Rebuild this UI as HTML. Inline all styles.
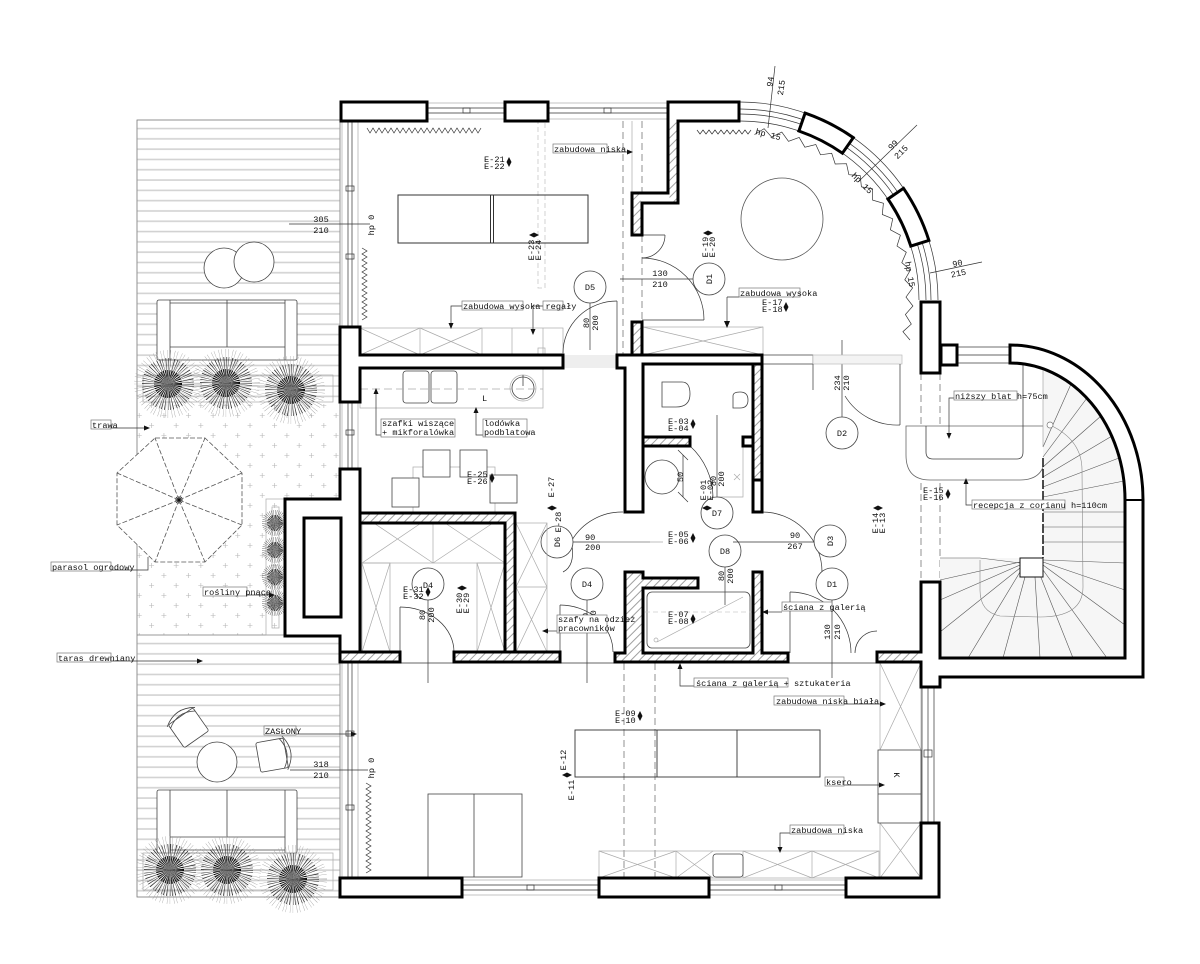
<!DOCTYPE html>
<html><head><meta charset="utf-8">
<style>
html,body{margin:0;padding:0;background:#fff;width:1200px;height:964px;overflow:hidden}
svg{display:block}
text{font-family:"Liberation Mono","DejaVu Sans Mono",monospace;font-size:8.6px;fill:#111}
.w{fill:#fff;stroke:#000;stroke-width:3;stroke-linejoin:miter}
.wh{fill:url(#h);stroke:#000;stroke-width:3;stroke-linejoin:miter}
.f{fill:none;stroke:#444;stroke-width:.8}
.fw{fill:#fff;stroke:#444;stroke-width:.8}
.l{fill:none;stroke:#aaa;stroke-width:.7}
.t{fill:none;stroke:#333;stroke-width:.7}
.bx{fill:#fff;stroke:#777;stroke-width:.7}
.d{fill:none;stroke:#777;stroke-width:.8;stroke-dasharray:7 4}
.a{fill:#111;stroke:none}
.p1{fill:none;stroke:#9a9a9a;stroke-width:34;stroke-dasharray:.2 1.3 .2 2.1}
.p2{fill:none;stroke:#222;stroke-width:26;stroke-dasharray:.35 .9 .25 1.6 .4 1.2}
.p3{fill:none;stroke:#000;stroke-width:14;stroke-dasharray:.5 .7}
.q1{fill:none;stroke:#555;stroke-width:13;stroke-dasharray:.25 .8}
.q2{fill:none;stroke:#111;stroke-width:8;stroke-dasharray:.4 .5}
</style></head><body>
<svg width="1200" height="964" viewBox="0 0 1200 964" xmlns="http://www.w3.org/2000/svg">
<defs>
<pattern id="h" width="6" height="6" patternUnits="userSpaceOnUse" patternTransform="rotate(45)"><rect width="6" height="6" fill="#fff"/><line x1="1" y1="0" x2="1" y2="6" stroke="#888" stroke-width=".8"/></pattern>
<pattern id="g" width="24.6" height="20" patternUnits="userSpaceOnUse"><path d="M4,3v5M1.5,5.5h5M16.3,13v5M13.8,15.5h5" stroke="#b5b5b5" stroke-width=".6" fill="none"/></pattern>
<pattern id="dk" width="20" height="10.3" patternUnits="userSpaceOnUse"><line x1="0" y1="5" x2="20" y2="5" stroke="#d2d2d2" stroke-width="1.6"/></pattern>
</defs>

<!-- ===== TERRACE ===== -->
<rect x="137" y="120" width="203" height="777" fill="#fff" stroke="#777" stroke-width=".8"/>
<rect x="137.5" y="121" width="202" height="283" fill="url(#dk)"/>
<rect x="137.5" y="404" width="202" height="231" fill="url(#g)"/>
<line x1="137" y1="635" x2="340" y2="635" stroke="#777" stroke-width=".8"/>
<rect x="137.5" y="636" width="202" height="260" fill="url(#dk)"/>

<!-- stools -->
<circle cx="224" cy="268" r="20" class="fw"/>
<circle cx="254" cy="262" r="20" class="fw"/>
<!-- top sofa -->
<rect x="157" y="300" width="140" height="60" rx="2" class="fw"/>
<g class="f"><line x1="170" y1="300" x2="170" y2="360"/><line x1="285" y1="300" x2="285" y2="360"/><line x1="170" y1="347" x2="285" y2="347"/><line x1="227" y1="300" x2="227" y2="347"/><line x1="170" y1="303" x2="285" y2="303"/></g>
<rect x="143" y="375" width="190" height="27" class="l"/>
<!-- top plants -->
<g>
<circle cx="168" cy="384" r="17" class="p1"/><circle cx="168" cy="384" r="13" class="p2"/><circle cx="168" cy="384" r="7" class="p3"/>
<circle cx="226" cy="383" r="17" class="p1"/><circle cx="226" cy="383" r="13" class="p2"/><circle cx="226" cy="383" r="7" class="p3"/>
<circle cx="291" cy="390" r="17" class="p1"/><circle cx="291" cy="390" r="13" class="p2"/><circle cx="291" cy="390" r="7" class="p3"/>
</g>
<!-- parasol -->
<g fill="none" stroke="#555" stroke-width=".8" stroke-dasharray="5 2">
<polygon points="155,438 205,438 242,473 242,525 205,562 155,562 117,525 117,473" fill="#fff"/>
<path d="M179,500L155,438M179,500L205,438M179,500L242,473M179,500L242,525M179,500L205,562M179,500L155,562M179,500L117,525M179,500L117,473"/>
</g>
<path d="M176,497l6,6M182,497l-6,6M179,496v8M175,500h8" stroke="#111" stroke-width=".7"/>
<!-- climbing plants planter -->
<rect x="266" y="499" width="19" height="136" class="l" fill="#fff"/>
<rect x="272" y="507" width="7" height="121" class="l"/>
<g>
<circle cx="275" cy="523" r="6.5" class="q1"/><circle cx="275" cy="523" r="4" class="q2"/>
<circle cx="275" cy="550" r="6.5" class="q1"/><circle cx="275" cy="550" r="4" class="q2"/>
<circle cx="275" cy="577" r="6.5" class="q1"/><circle cx="275" cy="577" r="4" class="q2"/>
<circle cx="275" cy="603" r="6.5" class="q1"/><circle cx="275" cy="603" r="4" class="q2"/>
</g>
<!-- bottom terrace furniture -->
<g transform="translate(188,727) rotate(-35)">
<rect x="-15" y="-13" width="30" height="28" rx="2" class="fw"/>
<path d="M-17,-12 Q0,-24 17,-12 M-15,-9 Q0,-19 15,-9" class="f"/>
</g>
<circle cx="217" cy="762" r="20" class="fw"/>
<g transform="translate(273,755) rotate(80)">
<rect x="-15" y="-13" width="30" height="28" rx="2" class="fw"/>
<path d="M-17,-12 Q0,-24 17,-12 M-15,-9 Q0,-19 15,-9" class="f"/>
</g>
<rect x="157" y="790" width="140" height="63" rx="2" class="fw"/>
<g class="f"><line x1="170" y1="790" x2="170" y2="853"/><line x1="285" y1="790" x2="285" y2="853"/><line x1="170" y1="837" x2="285" y2="837"/><line x1="227" y1="790" x2="227" y2="837"/><line x1="170" y1="850" x2="285" y2="850"/></g>
<rect x="143" y="853" width="190" height="37" class="l"/>
<g>
<circle cx="170" cy="870" r="17" class="p1"/><circle cx="170" cy="870" r="13" class="p2"/><circle cx="170" cy="870" r="7" class="p3"/>
<circle cx="227" cy="870" r="17" class="p1"/><circle cx="227" cy="870" r="13" class="p2"/><circle cx="227" cy="870" r="7" class="p3"/>
<circle cx="293" cy="879" r="17" class="p1"/><circle cx="293" cy="879" r="13" class="p2"/><circle cx="293" cy="879" r="7" class="p3"/>
</g>

<!-- ===== INTERIOR LINES / FURNITURE ===== -->
<line x1="623" y1="121" x2="623" y2="355" class="d"/>
<line x1="642" y1="121" x2="642" y2="193" class="d"/>
<line x1="642" y1="235" x2="642" y2="322" class="d"/>
<line x1="632" y1="121" x2="632" y2="193" class="l"/>
<rect x="538" y="122" width="7" height="166" fill="none" stroke="#c8c8c8" stroke-width=".8" stroke-dasharray="5 3"/>
<line x1="624" y1="663" x2="624" y2="878" class="d"/>
<line x1="655" y1="663" x2="655" y2="878" class="d"/>
<line x1="921" y1="373" x2="921" y2="582" class="d"/>
<line x1="940" y1="373" x2="940" y2="582" class="d"/>

<!-- top-left room -->
<path d="M367,128 l3,5 l3,-5 l3,5 l3,-5 l3,5 l3,-5 l3,5 l3,-5 l3,5 l3,-5 l3,5 l3,-5 l3,5 l3,-5 l3,5 l3,-5 l3,5 l3,-5 l3,5 l3,-5 l3,5 l3,-5 l3,5 l3,-5 l3,5 l3,-5 l3,5 l3,-5 l3,5 l3,-5 l3,5 l3,-5 l3,5 l3,-5 l3,5 l3,-5 l3,5 l3,-5" class="t"/>
<path d="M362,248 l5,3 l-5,3 l5,3 l-5,3 l5,3 l-5,3 l5,3 l-5,3 l5,3 l-5,3 l5,3 l-5,3 l5,3 l-5,3 l5,3 l-5,3 l5,3 l-5,3 l5,3 l-5,3 l5,3 l-5,3 l5,3 l-5,3" class="t"/>
<rect x="398" y="195" width="190" height="48" fill="none" stroke="#333" stroke-width="1"/>
<line x1="490.5" y1="195" x2="490.5" y2="243" stroke="#333" stroke-width="1"/>
<line x1="493.5" y1="195" x2="493.5" y2="243" stroke="#333" stroke-width="1"/>
<circle cx="590" cy="287" r="16" class="fw"/>
<line x1="590" y1="303" x2="590" y2="350" class="t"/>
<rect x="360" y="328" width="203" height="27" class="l"/>
<g class="l"><line x1="420" y1="328" x2="420" y2="355"/><line x1="482" y1="328" x2="482" y2="355"/><line x1="512" y1="328" x2="512" y2="355"/><line x1="543" y1="328" x2="543" y2="355"/>
<path d="M360,328L420,355M420,328L360,355M420,328L482,355M482,328L420,355"/>
<rect x="538" y="348" width="7" height="7"/></g>
<path d="M563,353 A54,52 0 0 1 617,301" class="t"/>
<line x1="617" y1="301" x2="617" y2="355" class="t"/>
<rect x="563" y="355" width="54" height="13" fill="#eee" stroke="none"/>

<!-- top-right room -->
<path d="M697,130 l3,4 l3,-4 l3,4 l3,-4 l3,4 l3,-4 l3,4 l3,-4 l3,4 l3,-4 l3,4 l3,-4 l3,4 l3,-4 l3,4 l3,-4 l3,4 l3,-4" class="t"/>
<polyline class="t" points="754.5,134.6 764.1,128.7 771.7,137.1 781.8,132.1 788.5,141.3 799.2,137.4 804.9,147.2 815.8,144.5 820.5,154.8 831.7,153.3 835.2,164.0 846.5,163.7 848.9,174.7 860.2,175.6 861.4,186.8 872.5,188.8 872.6,200.1 883.4,203.3 882.3,214.5 892.7,218.8 890.4,229.8 900.4,235.2 897.0,246.0 906.3,252.3 901.8,262.6 910.4,270.0 904.8,279.8 912.6,287.9 906.0,297.1 912.9,306.0 905.4,314.5 911.3,324.1 902.9,331.7 910,340"/>
<circle cx="782" cy="219" r="41" fill="none" stroke="#555" stroke-width=".8"/>
<path d="M642,235 L665,235 M665,235 A23,23 0 0 1 642,258" class="t"/>
<path d="M642,258 A62,62 0 0 1 704,320 M642,320 L704,320" class="t"/>
<line x1="620" y1="279" x2="693" y2="279" class="t"/>
<circle cx="709" cy="279" r="16" class="fw"/>
<rect x="643" y="327" width="120" height="28" class="l"/>
<path d="M643,327L763,355M763,327L643,355" class="l"/>
<path d="M727,297 L739,297 M727,297 L727,322" class="t"/>
<path class="a" d="M724,321 l3,7 l3,-7z"/>
<line x1="842" y1="340" x2="842" y2="417" class="t"/>
<line x1="768" y1="128" x2="775" y2="66" class="t"/>
<line x1="917" y1="125" x2="858" y2="182" class="t"/>
<line x1="982" y1="262" x2="930" y2="273" class="t"/>

<rect x="762" y="355" width="51" height="9" fill="#fff" stroke="#333" stroke-width=".7"/>
<rect x="813" y="355" width="89" height="9" fill="#f3f3f3" stroke="#bbb" stroke-width=".7"/>
<rect x="957" y="347" width="53" height="16" fill="#fff" stroke="#333" stroke-width=".7"/>
<line x1="957" y1="355" x2="1010" y2="355" class="t"/>
<path d="M845,396 A61,61 0 0 0 900,425" class="t"/>
<line x1="900" y1="364" x2="900" y2="425" class="t"/>
<line x1="813" y1="364" x2="813" y2="390" class="t"/>
<circle cx="842" cy="433" r="16" class="fw"/>
<path d="M906,426 L1045,426 L1045,455 Q1045,480 1020,480 L930,480 Q906,480 906,455 Z" fill="#fff" stroke="#666" stroke-width=".8"/>
<path d="M926,426 L926,452 Q926,459 933,459 L1017,459 Q1023,459 1023,452 L1023,363" class="f"/>

<!-- stairs -->
<path d="M1043,369 L1043,558 L940,558 L940,658 L1125,658 L1125,500 A115,137 0 0 0 1043,369 Z" fill="#f6f6f6"/>
<g stroke="#555" stroke-width=".6" fill="none">
<path d="M1043,447L1071,384M1043,457L1087,398M1043,467L1101,416M1043,477L1112,436M1043,487L1119,458M1043,497L1124,481M1043,512L1125,512M1043,527L1125,527M1043,542L1125,542"/>
<path d="M1043,560L1125,563M1043,562L1125,590M1043,565L1125,625M1043,570L1107,658M1040,575L1073,658M1035,577L1040,658M1025,577L1003,658M1020,572L968,658M1020,568L940,632M1020,565L940,600M1020,562L940,580M940,558L980,558L1020,563"/>
<line x1="1043" y1="363" x2="1043" y2="447" stroke="#999"/>
<path d="M1050,425 Q1082,440 1082,470 L1083,587 Q1083,617 1040,617 L1000,616 Q980,612 980,590 L980,560" stroke="#888"/>
</g>
<circle cx="1050" cy="425" r="3" fill="#fff" stroke="#777" stroke-width=".7"/>
<line x1="1043" y1="458" x2="1043" y2="558" stroke="#111" stroke-width="1.5" stroke-dasharray="9 2"/>
<rect x="1020" y="558" width="23" height="19" fill="#fff" stroke="#111" stroke-width="1"/>

<!-- kitchen -->
<rect x="360" y="368" width="183" height="40" class="l"/>
<rect x="403" y="371" width="26" height="32" rx="3" class="f"/>
<rect x="431" y="371" width="26" height="32" rx="3" class="f"/>
<circle cx="523" cy="388" r="13" class="l"/>
<circle cx="523" cy="388" r="11" class="f"/>
<line x1="523" y1="375" x2="523" y2="386" class="f"/>
<line x1="360" y1="389" x2="543" y2="389" class="l" stroke-dasharray="8 4"/>
<rect x="413" y="467" width="82" height="46" class="l"/>
<rect x="423" y="450" width="27" height="27" class="fw"/>
<rect x="460" y="450" width="27" height="27" class="fw"/>
<rect x="392" y="478" width="27" height="29" class="fw"/>
<rect x="490" y="475" width="27" height="28" class="fw"/>
<path d="M623,512 A58,58 0 0 0 572,540" class="t"/>
<path d="M572,545 Q575,566 563,572" class="t"/>
<line x1="572" y1="542" x2="650" y2="542" class="t"/>
<circle cx="557" cy="542" r="16" class="fw"/>
<rect x="362" y="515" width="143" height="48" class="l"/>
<path d="M362,515L433,563M433,515L362,563M433,515L505,563M505,515L433,563M433,515V563" class="l"/>
<rect x="362" y="563" width="28" height="89" class="l"/>
<path d="M362,563L390,652M390,563L362,652" class="l"/>
<rect x="477" y="563" width="28" height="89" class="l"/>
<path d="M477,563L505,652M505,563L477,652" class="l"/>
<circle cx="428" cy="584" r="16" class="fw"/>
<line x1="428" y1="600" x2="428" y2="683" class="t"/>
<path d="M400,607 A54,45 0 0 1 454,652" class="t"/>
<line x1="400" y1="607" x2="400" y2="652" class="t"/>
<rect x="516" y="523" width="31" height="129" class="l"/>
<path d="M516,523L547,587M547,523L516,587M516,587L547,652M547,587L516,652M516,587H547" class="l"/>
<circle cx="587" cy="584" r="16" class="fw"/>
<line x1="587" y1="600" x2="587" y2="683" class="t"/>
<path d="M560,605 A53,47 0 0 1 613,652" class="t"/>
<line x1="560" y1="605" x2="560" y2="652" class="t"/>

<!-- core bathrooms -->
<path d="M662,382 h20 q8,0 8,12 q0,13 -14,13 h-14z" class="f"/>
<path d="M733,396 q0,-4 7,-4 q8,0 8,8 q0,8 -8,8 h-7z" class="f"/>
<circle cx="662" cy="477" r="17" class="fw"/>
<path d="M683,455V497M678,450l10,10M678,492l10,10" class="t"/>
<line x1="717" y1="415" x2="717" y2="497" class="t"/>
<path d="M743,446V497H717" class="l"/>
<path d="M734,474l6,6M740,474l-6,6" class="l"/>
<path d="M690,446 A70,70 0 0 1 713,497" class="t"/>
<circle cx="717" cy="513" r="16" class="fw"/>
<line x1="600" y1="542" x2="663" y2="542" class="l"/>
<circle cx="725" cy="551" r="16" class="fw"/>
<line x1="733" y1="542" x2="815" y2="542" class="t"/>
<line x1="725" y1="567" x2="725" y2="605" class="t"/>
<path d="M762,512 A60,60 0 0 1 822,572" class="t"/>
<circle cx="830" cy="541" r="16" class="fw"/>
<circle cx="832" cy="584" r="16" class="fw"/>
<line x1="832" y1="600" x2="832" y2="678" class="t"/>
<rect x="647" y="592" width="103" height="56" rx="5" class="f"/>
<path d="M657,642L743,597" class="l"/>
<circle cx="656" cy="640" r="2" class="l"/>
<line x1="645" y1="612" x2="760" y2="612" stroke="#ccc" stroke-width=".8" stroke-dasharray="5 3"/>
<path d="M790,592 A61,61 0 0 1 851,653" class="t"/>
<line x1="790" y1="592" x2="790" y2="653" class="t"/>
<path d="M855,653 A22,22 0 0 1 877,631" class="t"/>

<!-- bottom room -->
<line x1="340" y1="663" x2="921" y2="663" class="t"/>
<rect x="575" y="730" width="245" height="47" fill="none" stroke="#333" stroke-width=".9"/>
<line x1="657" y1="730" x2="657" y2="777" stroke="#333" stroke-width=".9"/>
<line x1="737" y1="730" x2="737" y2="777" stroke="#333" stroke-width=".9"/>
<rect x="428" y="794" width="94" height="83" class="f"/>
<line x1="474" y1="794" x2="474" y2="877" class="f"/>
<rect x="599" y="851" width="280" height="27" class="l"/>
<path d="M676,851V878M743,851V878M812,851V878M599,851L676,878M676,851L599,878M676,851L713,878M713,851L676,878M743,851L812,878M812,851L743,878M812,851L879,878M879,851L812,878" class="l"/>
<rect x="713" y="854" width="30" height="23" rx="3" class="fw"/>
<rect x="880" y="663" width="41" height="215" class="l"/>
<path d="M880,663L921,750M921,663L880,750M880,823L921,878M921,823L880,878" class="l"/>
<rect x="878" y="750" width="43" height="73" class="fw"/>
<line x1="878" y1="794" x2="921" y2="794" class="f"/>
<path d="M366,783 l5,3 l-5,3 l5,3 l-5,3 l5,3 l-5,3 l5,3 l-5,3 l5,3 l-5,3 l5,3 l-5,3 l5,3 l-5,3 l5,3 l-5,3 l5,3 l-5,3 l5,3 l-5,3 l5,3 l-5,3 l5,3 l-5,3 l5,3 l-5,3 l5,3 l-5,3 l5,3 l-5,3" class="t"/>

<!-- ===== WINDOWS ===== -->
<g class="t">
<rect x="342" y="121" width="16" height="206" stroke="#aaa"/>
<line x1="348" y1="121" x2="348" y2="327"/><line x1="352" y1="121" x2="352" y2="327"/>
<rect x="346" y="186" width="8" height="5"/><rect x="346" y="254" width="8" height="5"/>
<rect x="342" y="402" width="16" height="67" stroke="#aaa"/>
<line x1="348" y1="402" x2="348" y2="469"/><line x1="352" y1="402" x2="352" y2="469"/>
<rect x="346" y="430" width="8" height="5"/>
<rect x="342" y="662" width="16" height="216" stroke="#aaa"/>
<line x1="348" y1="662" x2="348" y2="878"/><line x1="352" y1="662" x2="352" y2="878"/>
<rect x="346" y="731" width="8" height="5"/><rect x="346" y="805" width="8" height="5"/>
<rect x="427" y="103" width="78" height="16" stroke="#aaa"/>
<line x1="427" y1="108" x2="505" y2="108"/><line x1="427" y1="113" x2="505" y2="113"/>
<rect x="463" y="108" width="7" height="5"/>
<rect x="548" y="103" width="120" height="16" stroke="#aaa"/>
<line x1="548" y1="108" x2="668" y2="108"/><line x1="548" y1="113" x2="668" y2="113"/>
<rect x="604" y="108" width="7" height="5"/>
<rect x="462" y="880" width="137" height="15" stroke="#aaa"/>
<line x1="462" y1="885" x2="599" y2="885"/><line x1="462" y1="890" x2="599" y2="890"/>
<rect x="527" y="885" width="7" height="5"/>
<rect x="709" y="880" width="137" height="15" stroke="#aaa"/>
<line x1="709" y1="885" x2="846" y2="885"/><line x1="709" y1="890" x2="846" y2="890"/>
<rect x="775" y="885" width="7" height="5"/>
<rect x="922" y="687" width="12" height="136"/>
<line x1="928" y1="687" x2="928" y2="823"/>
<rect x="924" y="750" width="8" height="7"/>
<path d="M740,102 A198,198 0 0 1 938,300"/>
<path d="M740,109 A191,191 0 0 1 931,300"/>
<path d="M740,114 A186,186 0 0 1 926,300"/>
<path d="M740,121 A179,179 0 0 1 919,300"/>
</g>

<!-- ===== WALLS ===== -->
<rect x="341" y="102" width="86" height="19" class="w"/>
<rect x="505" y="102" width="43" height="19" class="w"/>
<polygon class="w" points="668,102 739,102 739,121 678,121 678,203 642,203 642,235 632,235 632,193 668,193"/>
<rect x="669.5" y="122.5" width="7" height="79" fill="url(#h)"/>
<rect x="633.5" y="194.5" width="7" height="39" fill="url(#h)"/>
<path class="w" d="M805.1,113.1 A198,198 0 0 1 853.3,137.6 L842.4,153.2 A179,179 0 0 0 798.9,131.0 Z"/>
<path class="w" d="M903.5,188.3 A198,198 0 0 1 928.9,240.4 L910.8,246.1 A179,179 0 0 0 887.9,199.0 Z"/>
<rect x="921" y="302" width="19" height="71" class="w"/>
<rect x="941" y="345" width="16" height="20" class="w"/>
<path class="w" d="M1010,345 A133,155 0 0 1 1143,500 L1143,677 L940,677 L940,687 L921,687 L921,662 L877,662 L877,652 L921,652 L921,582 L940,582 L940,658 L1125,658 L1125,500 A115,137 0 0 0 1010,363 Z"/>
<rect x="879" y="653.5" width="40" height="7" fill="url(#h)"/>
<line x1="1125" y1="500" x2="1143" y2="500" stroke="#000" stroke-width="2"/>
<polygon class="w" points="340,327 360,327 360,355 563,355 563,368 360,368 360,402 340,402"/>
<rect x="632" y="322" width="10" height="33" class="wh"/>
<polygon class="w" points="617,355 762,355 762,364 643,364 643,512 625,512 625,368 617,368"/>
<rect x="753" y="364" width="9" height="148" class="wh"/>
<rect x="753" y="480" width="9" height="32" class="w"/>
<rect x="743" y="437" width="10" height="9" class="w"/>
<rect x="643" y="437" width="47" height="9" class="wh"/>
<polygon class="wh" points="625,572 643,572 643,578 698,578 698,588 643,588 643,653 753,653 753,572 762,572 762,653 788,653 788,662 615,662 615,653 625,653"/>
<polygon class="w" points="340,469 360,469 360,662 340,662 340,636 285,636 285,499 340,499"/>
<rect x="304" y="518" width="37" height="99" class="w"/>
<polygon class="wh" points="360,513 515,513 515,652 505,652 505,523 360,523"/>
<rect x="340" y="652" width="60" height="10" class="wh"/>
<rect x="454" y="652" width="106" height="10" class="wh"/>
<rect x="340" y="878" width="122" height="19" class="w"/>
<rect x="599" y="878" width="110" height="19" class="w"/>
<polygon class="w" points="846,878 921,878 921,823 939,823 939,897 846,897"/>

<!-- ===== ARROWS / LEADERS ===== -->
<g class="t">
<path d="M111,428 H148"/><path d="M111,570 H148 V557"/><path d="M247,595 H270"/><path d="M111,661 H198"/>
<path d="M296,734 H352"/><path d="M607,152 H628"/>
<path d="M462,306 H451 V324"/><path d="M543,306 H533 V330"/>
<path d="M954,398 H949 V433"/><path d="M972,505 H966 V484"/>
<path d="M381,435 H376 V393"/><path d="M483,435 H476 V412"/>
<path d="M557,631 H548"/><path d="M782,612 H767"/>
<path d="M694,686 H680 V668"/><path d="M844,704 H881"/><path d="M844,785 H880"/><path d="M790,833 H780 V847"/>
<path d="M289,224 H370"/><path d="M290,770 H368"/>
</g>
<g class="a">
<path d="M150,428 l-6,-2.5 v5z"/><path d="M275,595 l-6,-2.5 v5z"/><path d="M203,661 l-6,-2.5 v5z"/>
<path d="M357,734 l-6,-2.5 v5z"/><path d="M633,152 l-6,-2.5 v5z"/>
<path d="M451,329 l-2.5,-6 h5z"/><path d="M533,335 l-2.5,-6 h5z"/>
<path d="M949,439 l-2.5,-6 h5z"/><path d="M966,478 l-2.5,6 h5z"/>
<path d="M376,388 l-2.5,6 h5z"/><path d="M476,407 l-2.5,6 h5z"/>
<path d="M542,631 l6,-2.5 v5z"/><path d="M762,612 l6,-2.5 v5z"/>
<path d="M680,663 l-2.5,6 h5z"/><path d="M886,704 l-6,-2.5 v5z"/><path d="M885,785 l-6,-2.5 v5z"/><path d="M780,853 l-2.5,-6 h5z"/>
</g>

<g class="a">
<path d="M509,157 l2.5,5 l-2.5,5 l-2.5,-5z"/>
<path d="M529,235 l5,-2.5 l5,2.5 l-5,2.5z"/>
<path d="M703,233 l5,-2.5 l5,2.5 l-5,2.5z"/>
<path d="M786,302 l2.5,5 l-2.5,5 l-2.5,-5z"/>
<path d="M948,489 l2.5,5 l-2.5,5 l-2.5,-5z"/>
<path d="M873,508 l5,-2.5 l5,2.5 l-5,2.5z"/>
<path d="M492,473 l2.5,5 l-2.5,5 l-2.5,-5z"/>
<path d="M547,508 l5,-2.5 l5,2.5 l-5,2.5z"/>
<path d="M428,587 l2.5,5 l-2.5,5 l-2.5,-5z"/>
<path d="M457,588 l5,-2.5 l5,2.5 l-5,2.5z"/>
<path d="M693,419 l2.5,5 l-2.5,5 l-2.5,-5z"/>
<path d="M702,508 l5,-2.5 l5,2.5 l-5,2.5z"/>
<path d="M693,533 l2.5,5 l-2.5,5 l-2.5,-5z"/>
<path d="M693,614 l2.5,5 l-2.5,5 l-2.5,-5z"/>
<path d="M640,711 l2.5,5 l-2.5,5 l-2.5,-5z"/>
<path d="M562,775 l5,-2.5 l5,2.5 l-5,2.5z"/>
</g>

<!-- ===== LABELS ===== -->
<g>
<rect x="91" y="420" width="20" height="9" class="bx"/><text x="92" y="428">trawa</text>
<rect x="51" y="562" width="60" height="9" class="bx"/><text x="52" y="570">parasol ogrodowy</text>
<rect x="203" y="587" width="44" height="9" class="bx"/><text x="204" y="595">rośliny pnące</text>
<rect x="57" y="653" width="54" height="9" class="bx"/><text x="58" y="661">taras drewniany</text>
<rect x="264" y="726" width="32" height="9" class="bx"/><text x="265" y="734">ZASŁONY</text>
<text x="321" y="222" text-anchor="middle">305</text><text x="321" y="233" text-anchor="middle">210</text>
<text x="321" y="767" text-anchor="middle">318</text><text x="321" y="778" text-anchor="middle">210</text>
<text transform="translate(374,225) rotate(-90)" text-anchor="middle">hp 0</text>
<text transform="translate(374,768) rotate(-90)" text-anchor="middle">hp 0</text>

<text x="484" y="162">E-21</text><text x="484" y="169">E-22</text>
<text transform="translate(534,250) rotate(-90)" text-anchor="middle">E-23</text>
<text transform="translate(541,250) rotate(-90)" text-anchor="middle">E-24</text>
<rect x="553" y="144" width="54" height="9" class="bx"/><text x="554" y="152">zabudowa niska</text>
<text x="590" y="290" text-anchor="middle">D5</text>
<rect x="462" y="301" width="61" height="9" class="bx"/><rect x="543" y="301" width="20" height="9" class="bx"/><text x="463" y="309">zabudowa wysoka regały</text>
<text transform="translate(589,323) rotate(-90)" text-anchor="middle">80</text>
<text transform="translate(598,323) rotate(-90)" text-anchor="middle">200</text>

<text transform="translate(708,247) rotate(-90)" text-anchor="middle">E-19</text>
<text transform="translate(715,247) rotate(-90)" text-anchor="middle">E-20</text>
<text x="660" y="276" text-anchor="middle">130</text><text x="660" y="287" text-anchor="middle">210</text>
<text transform="translate(712,279) rotate(-90)" text-anchor="middle">D1</text>
<rect x="739" y="288" width="61" height="9" class="bx"/><text x="740" y="296">zabudowa wysoka</text>
<text x="762" y="305">E-17</text><text x="762" y="312">E-18</text>
<text transform="translate(840,383) rotate(-90)" text-anchor="middle">234</text>
<text transform="translate(849,383) rotate(-90)" text-anchor="middle">210</text>
<text x="842" y="436" text-anchor="middle">D2</text>
<text transform="translate(755,134) rotate(14)">hp 15</text>
<text transform="translate(851,176) rotate(45)">hp 15</text>
<text transform="translate(905,262) rotate(80)">hp 15</text>
<text transform="translate(773,82) rotate(-82)" text-anchor="middle">94</text>
<text transform="translate(784,88) rotate(-82)" text-anchor="middle">215</text>
<text transform="translate(895,147) rotate(-45)" text-anchor="middle">99</text>
<text transform="translate(903,154) rotate(-45)" text-anchor="middle">215</text>
<text transform="translate(958,266) rotate(-12)" text-anchor="middle">90</text>
<text transform="translate(959,276) rotate(-12)" text-anchor="middle">215</text>

<rect x="954" y="391" width="63" height="9" class="bx"/><text x="955" y="399">niższy blat h=75cm</text>
<rect x="972" y="500" width="93" height="9" class="bx"/><text x="973" y="508">recepcja z corianu h=110cm</text>
<text x="923" y="493">E-15</text><text x="923" y="500">E-16</text>
<text transform="translate(878,523) rotate(-90)" text-anchor="middle">E-14</text>
<text transform="translate(885,523) rotate(-90)" text-anchor="middle">E-13</text>

<text x="482" y="401" font-size="10">L</text>
<rect x="381" y="419" width="74" height="18" class="bx"/><text x="382" y="426">szafki wiszące</text><text x="382" y="435">+ mikforalówka</text>
<rect x="483" y="419" width="44" height="18" class="bx"/><text x="484" y="426">lodówka</text><text x="484" y="435">podblatowa</text>
<text x="467" y="477">E-25</text><text x="467" y="484">E-26</text>
<text transform="translate(554,487) rotate(-90)" text-anchor="middle">E-27</text>
<text transform="translate(561,522) rotate(-90)" text-anchor="middle">E-28</text>
<text transform="translate(560,542) rotate(-90)" text-anchor="middle">D6</text>
<text x="585" y="540">90</text><text x="585" y="550">200</text>
<text x="428" y="588" text-anchor="middle">D4</text>
<text x="403" y="592">E-31</text><text x="403" y="599">E-32</text>
<text transform="translate(462,603) rotate(-90)" text-anchor="middle">E-30</text>
<text transform="translate(469,603) rotate(-90)" text-anchor="middle">E-29</text>
<text transform="translate(425,615) rotate(-90)" text-anchor="middle">80</text>
<text transform="translate(434,615) rotate(-90)" text-anchor="middle">200</text>
<text x="587" y="587" text-anchor="middle">D4</text>
<text transform="translate(588,618) rotate(-90)" text-anchor="middle">80</text>
<text transform="translate(596,618) rotate(-90)" text-anchor="middle">200</text>
<rect x="557" y="615" width="50" height="18" class="bx"/><text x="558" y="622">szafy na odzież</text><text x="558" y="631">pracowników</text>

<text x="668" y="424">E-03</text><text x="668" y="431">E-04</text>
<text transform="translate(683,477) rotate(-90)" text-anchor="middle" font-size="11">50</text>
<text transform="translate(706,490) rotate(-90)" text-anchor="middle">E-01</text>
<text transform="translate(713,490) rotate(-90)" text-anchor="middle">E-02</text>
<text transform="translate(716,481) rotate(-90)" text-anchor="middle">80</text>
<text transform="translate(724,479) rotate(-90)" text-anchor="middle">200</text>
<text x="717" y="516" text-anchor="middle">D7</text>
<text x="668" y="537">E-05</text><text x="668" y="544">E-06</text>
<text x="725" y="554" text-anchor="middle">D8</text>
<text x="795" y="538" text-anchor="middle">90</text><text x="795" y="549" text-anchor="middle">267</text>
<text transform="translate(833,541) rotate(-90)" text-anchor="middle">D3</text>
<text x="832" y="587" text-anchor="middle">D1</text>
<text transform="translate(724,576) rotate(-90)" text-anchor="middle">80</text>
<text transform="translate(733,576) rotate(-90)" text-anchor="middle">200</text>
<text x="668" y="617">E-07</text><text x="668" y="624">E-08</text>
<rect x="782" y="602" width="50" height="9" class="bx"/><text x="783" y="610">ściana z galerią</text>
<text transform="translate(830,632) rotate(-90)" text-anchor="middle">130</text>
<text transform="translate(840,632) rotate(-90)" text-anchor="middle">210</text>

<rect x="694" y="678" width="94" height="9" class="bx"/><text x="696" y="686">ściana z galerią + sztukateria</text>
<rect x="774" y="696" width="70" height="9" class="bx"/><text x="776" y="704">zabudowa niska biała</text>
<text x="615" y="716">E-09</text><text x="615" y="723">E-10</text>
<text transform="translate(566,760) rotate(-90)" text-anchor="middle">E-12</text>
<text transform="translate(574,790) rotate(-90)" text-anchor="middle">E-11</text>
<rect x="825" y="777" width="19" height="9" class="bx"/><text x="826" y="785">ksero</text>
<text transform="translate(894,775) rotate(90)" text-anchor="middle" font-size="10">K</text>
<rect x="790" y="825" width="54" height="9" class="bx"/><text x="791" y="833">zabudowa niska</text>
</g>
</svg>
</body></html>
